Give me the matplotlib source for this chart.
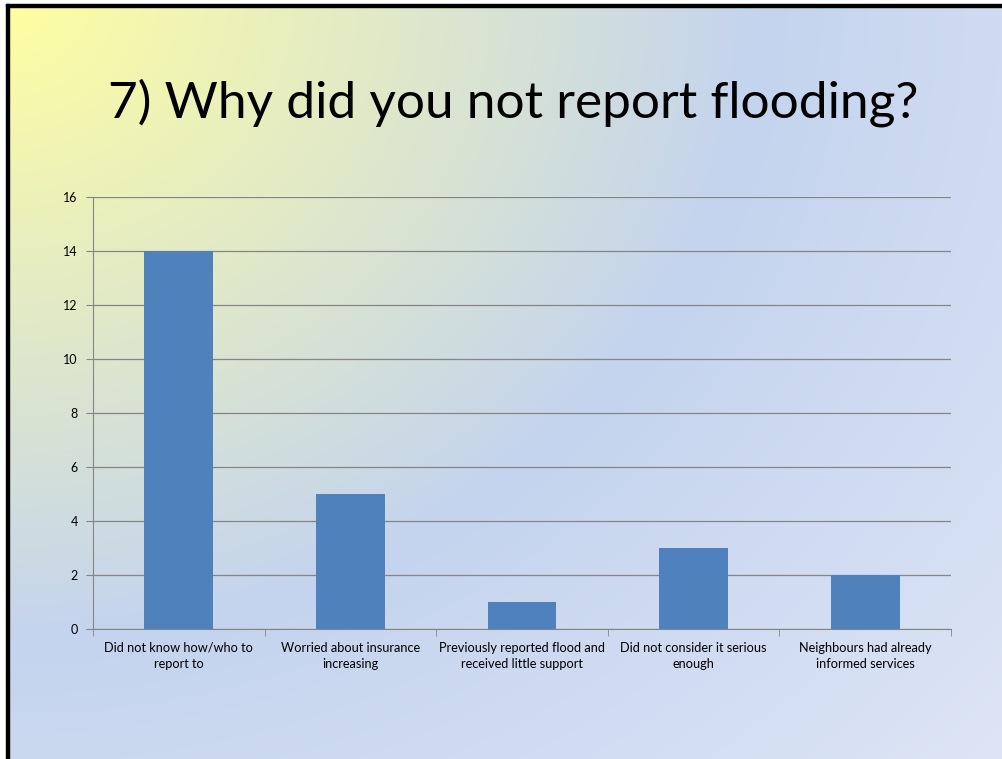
import numpy as np
import matplotlib
matplotlib.use("Agg")
import matplotlib.pyplot as plt
from matplotlib.patches import Rectangle

# Survey answers and counts
categories = [
    "Did not know how/who to\nreport to",
    "Worried about insurance\nincreasing",
    "Previously reported flood and\nreceived little support",
    "Did not consider it serious\nenough",
    "Neighbours had already\ninformed services",
]
counts = [14, 5, 1, 3, 2]
y_ticks = [0, 2, 4, 6, 8, 10, 12, 14, 16]

plt.rcParams['font.family'] = ['Lato', 'DejaVu Sans']

W, H = 1003, 759
fig = plt.figure(figsize=(W / 100, H / 100), dpi=100)

# slide background: yellow in the top-left corner fading to light blue
bg = fig.add_axes([0, 0, 1, 1])
yy, xx = np.mgrid[0:H, 0:W]
d = np.sqrt((xx / W) ** 2 + (yy / H) ** 2 * 0.8)
yellow = np.array([255, 255, 160]) / 255
blue = np.array([196, 212, 238]) / 255
light = np.array([222, 229, 246]) / 255
t1 = np.clip(d / 0.75, 0, 1)[..., None]
t2 = np.clip((d - 0.75) / 0.6, 0, 1)[..., None]
img = yellow * (1 - t1) + blue * t1
img = img * (1 - t2) + light * t2
bg.imshow(img, extent=[0, W, H, 0], aspect='auto')
bg.set_xlim(0, W)
bg.set_ylim(H, 0)
bg.axis('off')
# white margin + black frame on left/top
bg.add_patch(Rectangle((0, 0), 6, H, color='white'))
bg.add_patch(Rectangle((0, 0), W, 4, color='white'))
bg.add_patch(Rectangle((6, 4), 3, H, color='black'))
bg.add_patch(Rectangle((6, 4), W, 3, color='black'))

fig.text(0.512, 0.845, "7) Why did you not report flooding?", ha='center',
         va='baseline', fontsize=37, color='black')

ax = fig.add_axes([93 / W, 1 - 629 / H, 858 / W, 432 / H])
ax.patch.set_alpha(0)
x = np.arange(len(categories))
ax.bar(x, counts, width=0.4, color='#4F81BD', zorder=3)
ax.set_xlim(-0.5, len(categories) - 0.5)
ax.set_ylim(0, 16)
ax.set_yticks(y_ticks)
ax.set_yticklabels([str(v) for v in y_ticks], fontsize=9)
ax.yaxis.grid(True, color='#858585', linewidth=0.9, zorder=0)
ax.set_xticks(x)
ax.set_xticklabels(categories, fontsize=9.2, linespacing=1.45)
ax.tick_params(axis='x', length=0, pad=9)
ax.set_xticks(np.arange(-0.5, len(categories), 1), minor=True)
ax.tick_params(axis='x', which='minor', length=5, color='#858585')
ax.tick_params(axis='y', length=5, color='#858585', pad=6)
for s in ['top', 'right']:
    ax.spines[s].set_visible(False)
for s in ['left', 'bottom']:
    ax.spines[s].set_color('#858585')

fig.savefig("out.png", dpi=100)
